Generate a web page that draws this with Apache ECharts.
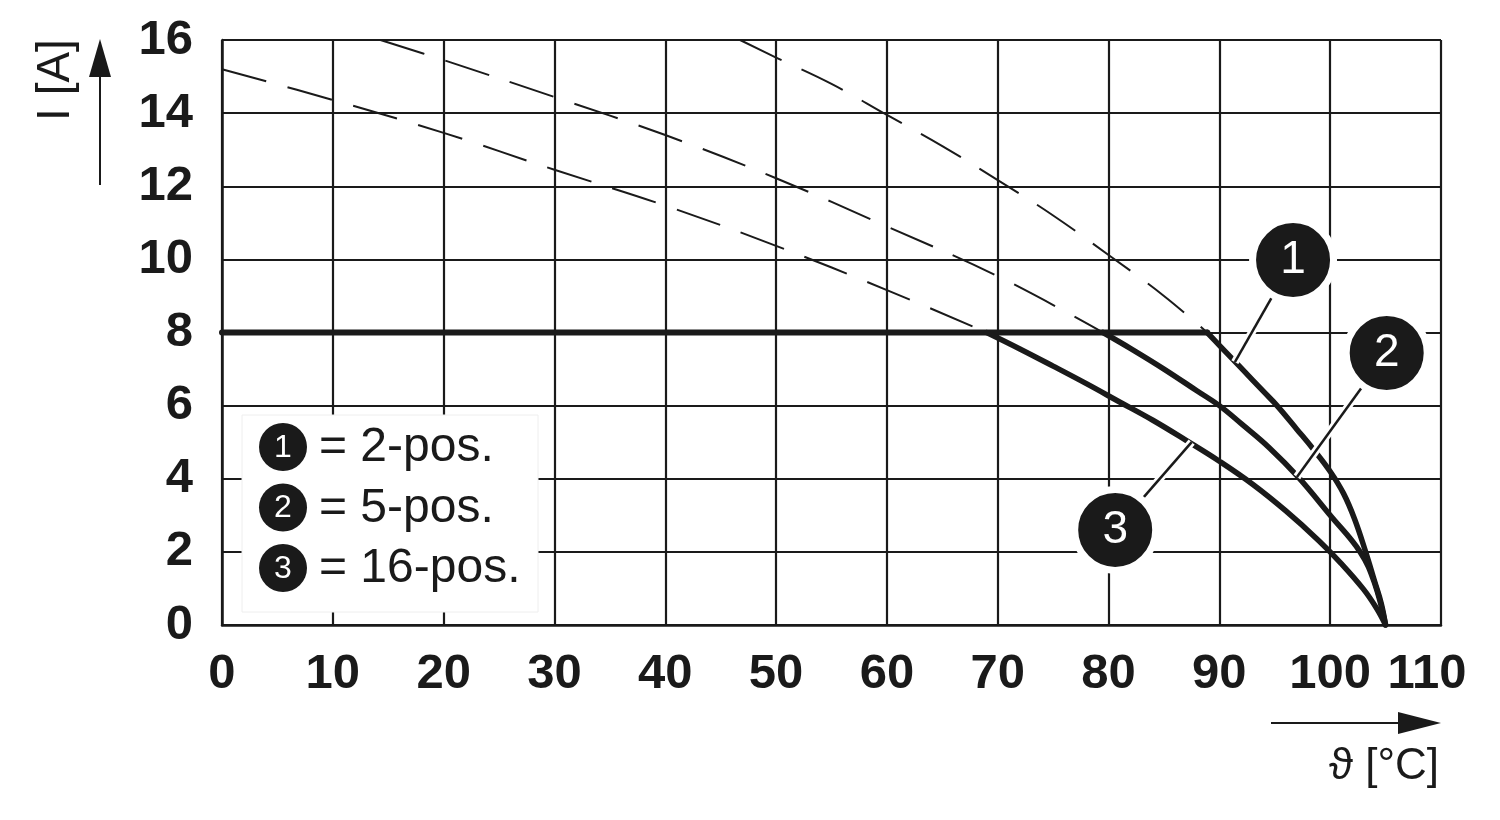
<!DOCTYPE html>
<html><head><meta charset="utf-8">
<script src="https://cdn.jsdelivr.net/npm/echarts@6/dist/echarts.min.js"></script>
<style>html,body{margin:0;padding:0;background:#fff}#c{width:1500px;height:820px}</style>
</head><body><div id="c"></div>
<script>
// ---- data ----
const flatLine = [[0, 8], [88.9, 8]];
const curve1Dashed = [[46.75, 16], [50, 15.52], [55, 14.8], [60, 13.95], [65, 13.1], [70, 12.17], [75, 11.2], [80, 10.12], [85, 9.0], [88.9, 8]];
const curve2Dashed = [[14.3, 16], [20, 15.45], [30, 14.44], [40, 13.4], [50, 12.22], [60, 10.9], [70, 9.54], [79.5, 8]];
const curve3Dashed = [[0, 15.2], [10, 14.36], [20, 13.46], [30, 12.45], [40, 11.47], [50, 10.37], [60, 9.16], [69, 8]];
const curve1Solid = [[88.9, 8], [90, 7.65], [92, 7.02], [94, 6.38], [95.2, 6.0], [97, 5.35], [98.5, 4.8], [100, 4.2], [101.2, 3.6], [102.2, 2.9], [103.2, 2.0], [104, 1.2], [104.6, 0.6], [105, 0]];
const curve2Solid = [[79.5, 8], [82, 7.56], [85, 7.0], [88, 6.4], [90, 6.0], [92, 5.5], [94.5, 4.85], [97.1, 4.05], [100, 3.0], [102.7, 2.0], [104, 1.15], [105, 0]];
const curve3Solid = [[69, 8], [72, 7.55], [75, 7.08], [78, 6.6], [81, 6.1], [84, 5.6], [87, 5.05], [90, 4.48], [93, 3.85], [96, 3.12], [99, 2.3], [101, 1.68], [103, 0.98], [104.2, 0.45], [105, 0]];
const calloutNumbers = ['1', '2', '3'];
const calloutCenters = [[96.65, 9.98], [105.1, 7.44], [80.6, 2.6]];
const calloutTargets = [[91.4, 7.19], [97.0, 4.05], [87.5, 5.0]];
const legendLabels = ['= 2-pos.', '= 5-pos.', '= 16-pos.'];
const xAxisName = 'ϑ [°C]';
const yAxisName = 'I [A]';
const xMin = 0, xMax = 110, xStep = 10;
const yMin = 0, yMax = 16, yStep = 2;

// ---- chart ----
const INK = '#1a1a1a';
const FONT = '"Liberation Sans", Arial, Helvetica, sans-serif';
const chart = echarts.init(document.getElementById('c'), null, {renderer: 'canvas'});

const series = [];
[curve1Dashed, curve2Dashed, curve3Dashed].forEach(d => series.push({
  type: 'line', data: d, showSymbol: false, smooth: 0.4, z: 2, silent: true,
  lineStyle: {color: INK, width: 2, type: [46, 22]}
}));
series.push({type: 'line', data: flatLine, showSymbol: false, z: 3, silent: true, clip: false,
  lineStyle: {color: INK, width: 6, cap: 'round'}});
[curve1Solid, curve2Solid, curve3Solid].forEach(d => series.push({
  type: 'line', data: d, showSymbol: false, smooth: 0.4, z: 3, silent: true,
  lineStyle: {color: INK, width: 5.5, cap: 'round', join: 'round'}
}));
calloutCenters.forEach((c, i) => {
  const seg = [c, calloutTargets[i]];
  series.push({type: 'line', data: seg, showSymbol: false, z: 4, silent: true, clip: false,
    lineStyle: {color: '#fff', width: 8, cap: 'butt'}});
  series.push({type: 'line', data: seg, showSymbol: false, z: 5, silent: true, clip: false,
    lineStyle: {color: INK, width: 2.5, cap: 'butt'}});
});
series.push({
  type: 'scatter', z: 6, silent: true, clip: false,
  data: calloutCenters.map((c, i) => ({value: c, name: calloutNumbers[i]})),
  symbol: 'circle', symbolSize: 81,
  itemStyle: {color: INK, borderColor: '#fff', borderWidth: 7, opacity: 1},
  label: {show: true, position: 'inside', formatter: p => p.name, color: '#fff',
    fontSize: 46, fontFamily: FONT}
});

// legend box (drawn as graphics)
const legendGraphics = [{
  type: 'rect', shape: {x: 242, y: 415, width: 296, height: 197}, z: 10,
  style: {fill: '#fff', stroke: '#eeeeee', lineWidth: 1}
}];
legendLabels.forEach((t, i) => {
  const cy = 447 + i * 60.5;
  legendGraphics.push({type: 'circle', shape: {cx: 283, cy: cy, r: 24}, z: 11, style: {fill: INK}});
  legendGraphics.push({type: 'text', x: 283, y: cy + 1, z: 12,
    style: {text: calloutNumbers[i], fill: '#fff', font: '32px ' + FONT, align: 'center', verticalAlign: 'middle'}});
  legendGraphics.push({type: 'text', x: 319, y: cy + 1, z: 12,
    style: {text: t, fill: INK, font: '48px ' + FONT, align: 'left', verticalAlign: 'middle'}});
});

const axisGraphics = [
  // y axis arrow
  {type: 'line', shape: {x1: 100, y1: 185, x2: 100, y2: 70}, style: {stroke: INK, lineWidth: 2}},
  {type: 'polygon', shape: {points: [[100, 39], [89, 77], [111, 77]]}, style: {fill: INK}},
  {type: 'text', x: 56, y: 80, rotation: Math.PI / 2,
    style: {text: yAxisName, fill: INK, font: '46px ' + FONT, align: 'center', verticalAlign: 'middle'}},
  // x axis arrow
  {type: 'line', shape: {x1: 1271, y1: 723, x2: 1405, y2: 723}, style: {stroke: INK, lineWidth: 2}},
  {type: 'polygon', shape: {points: [[1441, 723], [1398, 712], [1398, 734]]}, style: {fill: INK}},
  {type: 'text', x: 1439, y: 767,
    style: {text: xAxisName, fill: INK, font: '44px ' + FONT, align: 'right', verticalAlign: 'middle'}}
];

chart.setOption({
  animation: false,
  backgroundColor: '#fff',
  grid: {left: 222, right: 59, top: 40, bottom: 195, containLabel: false},
  xAxis: {
    type: 'value', min: xMin, max: xMax, interval: xStep,
    axisLine: {show: true, onZero: false, lineStyle: {color: INK, width: 2.5}},
    axisTick: {show: false},
    axisLabel: {
      color: INK, fontSize: 49, fontWeight: 'bold', fontFamily: FONT, margin: 25,
      formatter: v => v === xMax ? '{last|' + v + '}' : String(v),
      rich: {last: {fontSize: 49, fontWeight: 'bold', fontFamily: FONT, color: INK, padding: [0, 28, 0, 0]}}
    },
    splitLine: {show: true, lineStyle: {color: INK, width: 2.2}}
  },
  yAxis: {
    type: 'value', min: yMin, max: yMax, interval: yStep,
    axisLine: {show: true, lineStyle: {color: INK, width: 2.5}},
    axisTick: {show: false},
    axisLabel: {color: INK, fontSize: 49, fontWeight: 'bold', fontFamily: FONT, margin: 29},
    splitLine: {show: true, lineStyle: {color: INK, width: 2.2}}
  },
  series: series,
  graphic: legendGraphics.concat(axisGraphics)
});
</script>
</body></html>
